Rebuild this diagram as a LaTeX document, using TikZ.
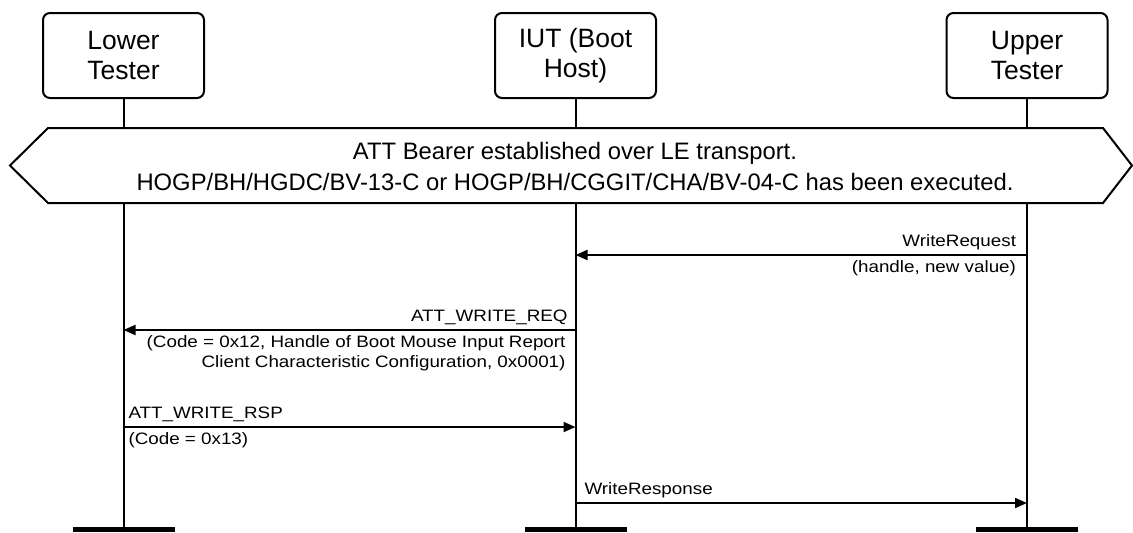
\documentclass[tikz,border=0pt]{standalone}
\usepackage{fontspec}
\setmainfont{Liberation Sans}
\newfontfamily\msgfont[FakeStretch=1.14]{Liberation Sans}
\usetikzlibrary{arrows.meta}

\begin{document}
\begin{tikzpicture}[x=1pt, y=-1pt, line width=2pt,
	head/.style={draw, rounded corners=7pt, minimum width=161pt, minimum height=85pt, align=center, font=\fontsize{26.5}{30}\selectfont},
	msg/.style={-{Triangle[length=12pt, width=10pt]}},
	lab/.style={font=\msgfont\fontsize{16.5}{19.5}\selectfont, inner sep=1pt, align=right}]
	\useasboundingbox (0,0) rectangle (1133,533);
	\node[head] (lt) at (123.5,55.5) {Lower\\Tester};
	\node[head] (iut) at (575.5,55.5) {IUT (Boot\\Host)};
	\node[head] (ut) at (1027,55.5) {Upper\\Tester};
	% lifelines and end bars
	\foreach \n in {lt,iut,ut} {
		\coordinate (\n end) at (\n |- 0,529);
		\draw (\n.south) -- (\n end);
		\draw[line width=5pt] ([xshift=-51pt]\n end) -- ([xshift=51pt]\n end);
	}
	% precondition banner
	\draw[fill=white] (48,128) -- (1103,128) -- (1132,165.5) -- (1103,203) -- (48,203) -- (10,165.5) -- cycle;
	\node[align=center, font=\fontsize{23.8}{31}\selectfont] (pre) at (575,166) {ATT Bearer established over LE transport.\\HOGP/BH/HGDC/BV-13-C or HOGP/BH/CGGIT/CHA/BV-04-C has been executed.};
	% messages
	\coordinate (ut1) at (ut |- 0,255);   \coordinate (iut1) at (iut |- 0,255);
	\coordinate (iut2) at (iut |- 0,330); \coordinate (lt2) at (lt |- 0,330);
	\coordinate (lt3) at (lt |- 0,427);   \coordinate (iut3) at (iut |- 0,427);
	\coordinate (iut4) at (iut |- 0,503); \coordinate (ut4) at (ut |- 0,503);
	\draw[msg] (ut1) -- (iut1);
	\node[lab, anchor=south east] (m1a) at ([shift={(-9,-3)}]ut1) {WriteRequest};
	\node[lab, anchor=north east] (m1b) at ([shift={(-9,4)}]ut1) {(handle, new value)};
	\draw[msg] (iut2) -- (lt2);
	\node[lab, anchor=south east] (m2a) at ([shift={(-6,-3)}]iut2) {ATT\_WRITE\_REQ};
	\node[lab, anchor=north east] (m2b) at ([shift={(-8,4)}]iut2) {(Code = 0x12, Handle of Boot Mouse Input Report\\Client Characteristic Configuration, 0x0001)};
	\draw[msg] (lt3) -- (iut3);
	\node[lab, anchor=south west] (m3a) at ([shift={(3,-3)}]lt3) {ATT\_WRITE\_RSP};
	\node[lab, anchor=north west] (m3b) at ([shift={(3,4)}]lt3) {(Code = 0x13)};
	\draw[msg] (iut4) -- (ut4);
	\node[lab, anchor=south west] (m4a) at ([shift={(7,-3)}]iut4) {WriteResponse};
\end{tikzpicture}
\end{document}
